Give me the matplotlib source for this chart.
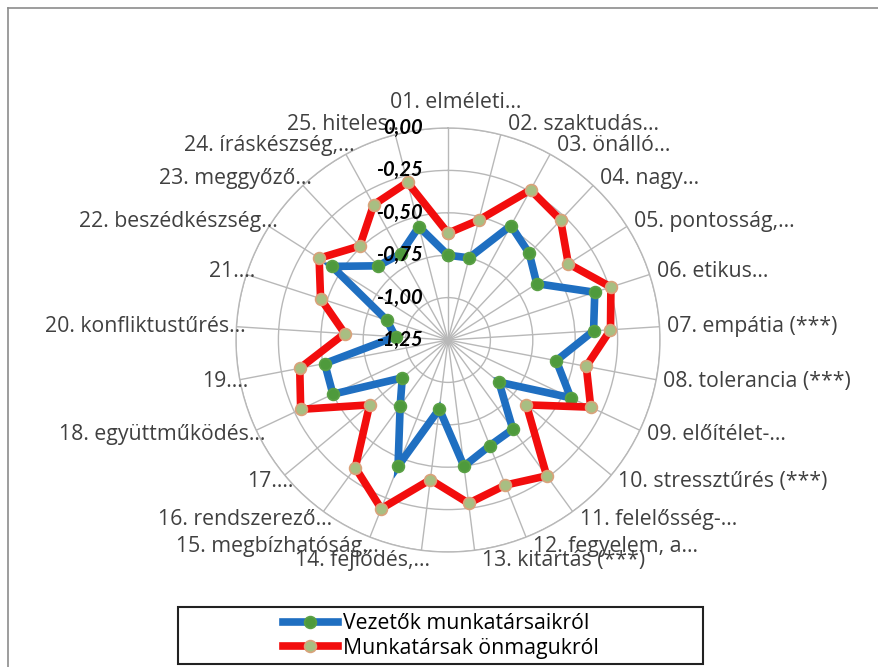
import numpy as np
import matplotlib.pyplot as plt
from matplotlib.lines import Line2D
from matplotlib.patches import Rectangle

plt.rcParams['font.family'] = ['Open Sans', 'DejaVu Sans']

categories = [
    "01. elméleti...", "02. szaktudás...", "03. önálló...", "04. nagy...",
    "05. pontosság,...", "06. etikus...", "07. empátia (***)", "08. tolerancia (***)",
    "09. előítélet-...", "10. stressztűrés (***)", "11. felelősség-...", "12. fegyelem, a...",
    "13. kitartás (***)", "14. fejlődés,...", "15. megbízhatóság...", "16. rendszerező...",
    "17....", "18. együttműködés...", "19....", "20. konfliktustűrés...",
    "21....", "22. beszédkészség...", "23. meggyőző...", "24. íráskészség,...",
    "25. hiteles...",
]
vezetok = [-0.75, -0.75, -0.48, -0.55, -0.63, -0.34, -0.39, -0.60, -0.45, -0.86,
           -0.60, -0.58, -0.50, -0.84, -0.45, -0.77, -0.90, -0.50, -0.51, -0.94,
           -0.87, -0.44, -0.65, -0.67, -0.56]
munkatarsak = [-0.62, -0.52, -0.24, -0.28, -0.41, -0.24, -0.29, -0.42, -0.32, -0.65,
               -0.26, -0.33, -0.28, -0.42, -0.18, -0.32, -0.65, -0.29, -0.36, -0.64,
               -0.46, -0.35, -0.49, -0.34, -0.29]
rticks = [-1.25, -1.00, -0.75, -0.50, -0.25, 0.00]
rtick_labels = ["-1,25", "-1,00", "-0,75", "-0,50", "-0,25", "0,00"]
series_names = ["Vezetők munkatársaikról", "Munkatársak önmagukról"]

W, H = 879, 667
fig = plt.figure(figsize=(W / 100, H / 100), dpi=100)

# polar axes placed so that centre is at (448, 340) px, radius 212 px
cx, cy, R = 448, 340, 212
ax = fig.add_axes([(cx - R) / W, (H - cy - R) / H, 2 * R / W, 2 * R / H], projection='polar')
ax.set_theta_zero_location('N')
ax.set_theta_direction(-1)
ax.set_ylim(-1.25, 0)

n = len(categories)
angles = np.arange(n) * 2 * np.pi / n
ang_c = np.append(angles, angles[0])

ax.set_xticks(angles)
ax.set_xticklabels([])
ax.set_yticks(rticks[1:])
ax.set_yticklabels([])
ax.grid(True, color='#B8B8B8', linewidth=1.0)
ax.spines['polar'].set_color('#B8B8B8')
ax.spines['polar'].set_linewidth(1.0)
ax.tick_params(length=0)

blue_kw = dict(color='#1F6FC1', lw=5.5, marker='o', ms=8.5,
               mfc='#4E9A3C', mec='#5AA045', mew=1.2, solid_joinstyle='miter')
red_kw = dict(color='#F20D0D', lw=5.5, marker='o', ms=8.5,
              mfc='#A8BE82', mec='#D9A27A', mew=1.2, solid_joinstyle='miter')

v = np.append(vezetok, vezetok[0])
m = np.append(munkatarsak, munkatarsak[0])
ax.plot(ang_c, v, zorder=3, **blue_kw)
ax.plot(ang_c, m, zorder=4, **red_kw)

# category labels
px = 0.72
for a, lab in zip(angles, categories):
    s, c = np.sin(a), np.cos(a)
    if abs(s) < 0.05:
        ha, dx, dy = 'center', 8, 25
    elif s > 0:
        ha, dx, dy = 'left', 7, 10 * c
    else:
        ha, dx, dy = 'right', 9, 10 * c
    ax.annotate(lab, xy=(a, 0), xytext=(dx * px, dy * px), textcoords='offset points',
                ha=ha, va='center', fontsize=15.3, color='#404040', zorder=5,
                annotation_clip=False)

# radial value labels
for r, lab in zip(rticks, rtick_labels):
    ax.annotate(lab, xy=(0, r), xytext=(-25 * px, 0), textcoords='offset points',
                ha='right', va='center', fontsize=14.5, fontweight='bold',
                fontstyle='italic', family=['Lato', 'DejaVu Sans'], color='black',
                zorder=6, annotation_clip=False)

# legend
handles = [Line2D([], [], **blue_kw), Line2D([], [], **red_kw)]
fig.legend(handles, series_names, loc='center', bbox_to_anchor=(441 / W, 1 - 636 / H),
           frameon=False, fontsize=15.3, handlelength=2.6, labelspacing=0.15,
           handletextpad=0.25, borderpad=0.2, numpoints=1)
fig.add_artist(Rectangle((178 / W, 1 - 664 / H), (703 - 178) / W, (664 - 607) / H,
                         transform=fig.transFigure, fill=False, ec='#222222', lw=1.5))

# chart frame (left and top edges)
fig.add_artist(Line2D([8 / W, 8 / W], [0, 1 - 8 / H], transform=fig.transFigure,
                      color='#8C8C8C', lw=1.2))
fig.add_artist(Line2D([8 / W, 1], [1 - 8 / H, 1 - 8 / H], transform=fig.transFigure,
                      color='#8C8C8C', lw=1.2))

fig.savefig('out.png', dpi=100)
